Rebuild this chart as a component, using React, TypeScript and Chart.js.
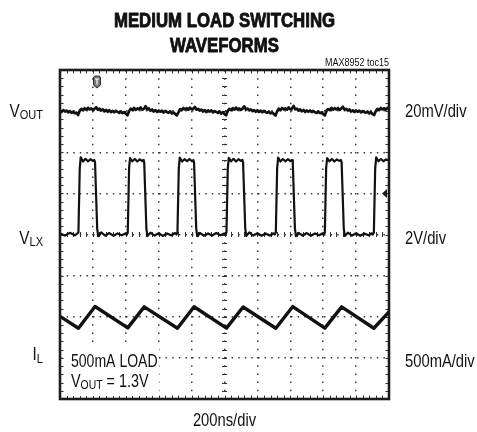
import React, { useEffect, useRef } from 'react';
import { Chart, registerables } from 'chart.js';

Chart.register(...registerables);

// ---------- text content ----------
const TITLE_LINES = ['MEDIUM LOAD SWITCHING', 'WAVEFORMS'];
const FIGURE_ID = 'MAX8952 toc15';
const TIME_LABEL = '200ns/div';
const CHANNEL_MAIN = ['V', 'V', 'I'];
const CHANNEL_SUB = ['OUT', 'LX', 'L'];
const CHANNEL_SCALE = ['20mV/div', '2V/div', '500mA/div'];
const NOTE_LOAD = '500mA LOAD';
const NOTE_VOUT = ' = 1.3V';

// ---------- scope setup ----------
const TIME_PER_DIV_NS = 200;
const H_DIVS = 10;
const V_DIVS = 8;
const VOUT_GROUND_DIV = 3;
const VLX_GROUND_DIV = 0;
const IL_GROUND_DIV = -3;
const VOUT_MV_PER_DIV = 20;
const VLX_V_PER_DIV = 2;
const IL_MA_PER_DIV = 500;
const TRIGGER_TIME_NS = 225;
const TRIGGER_LEVEL_V = 2;

// ---------- data ----------
// VOUT ripple (mV, AC-coupled), one sample every 10 ns from 0 to 2000 ns
const VOUT_SAMPLE_NS = 10;
const VOUT_RIPPLE_MV: number[] = [
  0.3, -0.4, 0.5, -0.2, 0.2, -0.6, 0.0, -0.8, -0.3, -1.1, -0.7, -1.9,
  0.2, 1.1, 0.4, 1.4, 0.7, 1.6, 0.8, 1.3, 0.5, 1.2,
  1.9, 0.6, 1.2, 0.3, 0.9, -0.1, 0.6, -0.3, 0.4, -0.5, 0.1, -0.6, 0.2, -0.4, -0.9, -0.2, -1.0, -0.5, -1.3, -2.0,
  0.0, 1.2, 0.5, 1.6, 0.6, 1.3, 0.9, 1.8, 0.7, 1.1,
  2.4, 0.8, 1.3, 0.2, 0.8, -0.2, 0.5, -0.4, 0.3, -0.3, 0.2, -0.7, 0.1, -0.5, -0.8, -0.1, -1.1, -0.6, -1.4, -2.1,
  -0.6, 1.0, 0.4, 1.5, 0.8, 1.4, 0.6, 1.7, 0.9, 1.2,
  2.0, 0.7, 1.1, 0.3, 0.7, -0.2, 0.5, -0.5, 0.3, -0.2, 0.4, -0.6, 0.0, -0.4, -0.9, -0.2, -1.2, -0.5, -1.5, -2.0,
  0.1, 1.1, 0.5, 1.4, 0.7, 1.7, 0.8, 1.3, 0.6, 1.2,
  2.3, 0.8, 1.2, 0.4, 0.9, 0.0, 0.5, -0.3, 0.4, -0.4, 0.2, -0.6, 0.1, -0.5, -0.8, -0.2, -1.1, -0.6, -1.4, -2.2,
  0.0, 1.2, 0.4, 1.5, 0.8, 1.3, 0.7, 1.8, 0.9, 1.2,
  2.5, 0.9, 1.2, 0.3, 0.8, -0.1, 0.6, -0.4, 0.3, -0.3, 0.3, -0.5, 0.1, -0.6, -0.9, -0.1, -1.0, -0.6, -1.5, -2.1,
  0.2, 1.0, 0.5, 1.6, 0.7, 1.4, 0.8, 1.5, 0.6, 1.3,
  2.1, 0.7, 1.1, 0.3, 0.8, -0.2, 0.4, -0.4, 0.3, -0.3, 0.2, -0.6, 0.0, -0.5, -0.8, -0.2, -1.1, -0.5, -1.4, -1.9,
  0.1, 1.1, 0.5, 1.5, 0.8, 1.4, 0.7, 1.6, 1.0,
];

// Switching node voltage (time ns, volts)
const VLX_VOLTS: [number, number][] = [
  [0, 0.05], [30, -0.05], [60, 0.08], [90, -0.04], [106, 0.05],
  [112, 0.1], [120, 3.2], [126, 3.75], [140, 3.55], [155, 3.68], [170, 3.56], [185, 3.66], [200, 3.58], [209, 3.62],
  [213, 3.5], [226, 0.3], [232, -0.08], [250, 0.1], [275, -0.05], [300, 0.07], [325, -0.06], [350, 0.05], [375, -0.04], [400, 0.06], [406, 0.0],
  [412, 0.1], [420, 3.25], [426, 3.72], [440, 3.56], [455, 3.67], [470, 3.55], [485, 3.65], [500, 3.57], [508, 3.63],
  [512, 3.5], [525, 0.3], [531, -0.07], [550, 0.09], [575, -0.05], [600, 0.06], [625, -0.07], [650, 0.05], [675, -0.04], [700, 0.07], [708, 0.0],
  [714, 0.1], [722, 3.2], [728, 3.74], [742, 3.55], [757, 3.66], [772, 3.57], [787, 3.67], [802, 3.56], [811, 3.62],
  [815, 3.5], [828, 0.3], [834, -0.08], [850, 0.08], [875, -0.06], [900, 0.05], [925, -0.05], [950, 0.07], [975, -0.04], [998, 0.05], [1006, 0.0],
  [1012, 0.1], [1020, 3.22], [1026, 3.73], [1040, 3.56], [1055, 3.68], [1070, 3.55], [1085, 3.66], [1100, 3.58], [1109, 3.63],
  [1113, 3.5], [1126, 0.3], [1132, -0.07], [1150, 0.1], [1175, -0.05], [1200, 0.06], [1225, -0.06], [1250, 0.05], [1275, -0.05], [1298, 0.06], [1306, 0.0],
  [1312, 0.1], [1320, 3.2], [1326, 3.74], [1340, 3.55], [1355, 3.67], [1370, 3.56], [1385, 3.66], [1400, 3.57], [1411, 3.62],
  [1415, 3.5], [1428, 0.3], [1434, -0.08], [1450, 0.08], [1475, -0.05], [1500, 0.07], [1525, -0.06], [1550, 0.05], [1575, -0.04], [1596, 0.06], [1604, 0.0],
  [1610, 0.1], [1618, 3.24], [1624, 3.72], [1638, 3.56], [1653, 3.67], [1668, 3.55], [1683, 3.65], [1698, 3.58], [1708, 3.62],
  [1712, 3.5], [1725, 0.3], [1731, -0.07], [1750, 0.09], [1775, -0.05], [1800, 0.06], [1825, -0.06], [1850, 0.05], [1875, -0.04], [1894, 0.06], [1902, 0.0],
  [1908, 0.1], [1916, 3.2], [1922, 3.75], [1936, 3.56], [1951, 3.67], [1966, 3.56], [1981, 3.65], [2000, 3.6],
];

// Inductor current (time ns, mA)
const IL_MA: [number, number][] = [
  [0, 505], [112, 360], [213, 625], [412, 365], [512, 620], [714, 360], [815, 622],
  [1012, 362], [1113, 618], [1312, 360], [1415, 624], [1610, 362], [1712, 620], [1908, 360], [2000, 560],
];

// ---------- styling ----------
const FONT = '"Liberation Sans", Arial, Helvetica, sans-serif';
const INK = '#111111';
const GRID_COLOR = '#3a3a3a';
const W = 477;
const H = 432;

type Part = { text: string; size: number; dy?: number; bold?: boolean; stroke?: number };

function drawParts(ctx: CanvasRenderingContext2D, parts: Part[], x: number, baseline: number, align: 'left' | 'right' | 'center', sx: number) {
  let total = 0;
  const widths = parts.map((p) => {
    ctx.font = `${p.bold ? 'bold ' : ''}${p.size}px ${FONT}`;
    const w = ctx.measureText(p.text).width * sx;
    total += w;
    return w;
  });
  let cx = align === 'right' ? x - total : align === 'center' ? x - total / 2 : x;
  parts.forEach((p, i) => {
    ctx.save();
    ctx.font = `${p.bold ? 'bold ' : ''}${p.size}px ${FONT}`;
    ctx.textAlign = 'left';
    ctx.textBaseline = 'alphabetic';
    ctx.fillStyle = INK;
    ctx.translate(cx, baseline + (p.dy || 0));
    ctx.scale(sx, 1);
    ctx.fillText(p.text, 0, 0);
    if (p.stroke) {
      ctx.lineWidth = p.stroke;
      ctx.strokeStyle = INK;
      ctx.lineJoin = 'round';
      ctx.strokeText(p.text, 0, 0);
    }
    ctx.restore();
    cx += widths[i];
  });
  return total;
}

const scopePlugin = {
  id: 'scopeDecor',
  beforeDatasetsDraw(chart: any) {
    const { ctx, chartArea: a, scales } = chart;
    const xs = scales.x;
    const ys = scales.y;
    ctx.save();
    ctx.strokeStyle = '#333';
    ctx.lineWidth = 1;
    const yc = ys.getPixelForValue(0);
    const xc = xs.getPixelForValue((H_DIVS / 2) * TIME_PER_DIV_NS);
    ctx.beginPath();
    for (let i = 1; i < H_DIVS * 5; i++) {
      const px = Math.round(xs.getPixelForValue((i * TIME_PER_DIV_NS) / 5)) + 0.5;
      ctx.moveTo(px, a.top);
      ctx.lineTo(px, a.top + 3.5);
      ctx.moveTo(px, a.bottom - 3.5);
      ctx.lineTo(px, a.bottom);
      ctx.moveTo(px, yc - 2.5);
      ctx.lineTo(px, yc + 2.5);
    }
    for (let i = 1; i < V_DIVS * 5; i++) {
      const py = Math.round(ys.getPixelForValue(-V_DIVS / 2 + i / 5)) + 0.5;
      ctx.moveTo(a.left, py);
      ctx.lineTo(a.left + 3.5, py);
      ctx.moveTo(a.right - 3.5, py);
      ctx.lineTo(a.right, py);
      ctx.moveTo(xc - 2.5, py);
      ctx.lineTo(xc + 2.5, py);
    }
    ctx.stroke();
    // white backdrop for annotation text
    const boxTop = ys.getPixelForValue(IL_GROUND_DIV) - 14;
    ctx.fillStyle = '#ffffff';
    ctx.fillRect(a.left + 5, boxTop, 94, a.bottom - 3 - boxTop);
    ctx.restore();
  },
  afterDatasetsDraw(chart: any) {
    const { ctx, chartArea: a, scales } = chart;
    const xs = scales.x;
    const ys = scales.y;
    ctx.save();
    // frame
    ctx.strokeStyle = '#1c1c1c';
    ctx.lineWidth = 2.6;
    ctx.strokeRect(a.left, a.top, a.right - a.left, a.bottom - a.top);
    // trigger position marker
    const tx = xs.getPixelForValue(TRIGGER_TIME_NS);
    const ty = a.top + 6;
    ctx.fillStyle = '#7a7a7a';
    ctx.strokeStyle = '#2a2a2a';
    ctx.lineWidth = 1;
    ctx.beginPath();
    ctx.moveTo(tx - 3.5, ty + 2);
    ctx.quadraticCurveTo(tx - 3.5, ty, tx - 1.5, ty);
    ctx.lineTo(tx + 1.5, ty);
    ctx.quadraticCurveTo(tx + 3.5, ty, tx + 3.5, ty + 2);
    ctx.lineTo(tx + 3.5, ty + 9);
    ctx.lineTo(tx, ty + 12);
    ctx.lineTo(tx - 3.5, ty + 9);
    ctx.closePath();
    ctx.fill();
    ctx.stroke();
    ctx.strokeStyle = '#ffffff';
    ctx.lineWidth = 1.2;
    ctx.beginPath();
    ctx.moveTo(tx - 2, ty + 3);
    ctx.lineTo(tx + 2, ty + 3);
    ctx.moveTo(tx, ty + 3);
    ctx.lineTo(tx, ty + 8.5);
    ctx.stroke();
    // trigger level marker
    const ly = ys.getPixelForValue(VLX_GROUND_DIV + TRIGGER_LEVEL_V / VLX_V_PER_DIV);
    ctx.fillStyle = '#1c1c1c';
    ctx.beginPath();
    ctx.moveTo(a.right - 7, ly);
    ctx.lineTo(a.right - 2, ly - 4.5);
    ctx.lineTo(a.right - 2, ly + 4.5);
    ctx.closePath();
    ctx.fill();
    ctx.restore();
  },
  afterDraw(chart: any) {
    const { ctx, chartArea: a, scales } = chart;
    const ys = scales.y;
    const cx = (a.left + a.right) / 2;
    ctx.save();
    // title
    drawParts(ctx, [{ text: TITLE_LINES[0], size: 21, bold: true, stroke: 0.9 }], cx, 26.5, 'center', 0.8);
    drawParts(ctx, [{ text: TITLE_LINES[1], size: 21, bold: true, stroke: 0.9 }], cx, 52, 'center', 0.8);
    drawParts(ctx, [{ text: FIGURE_ID, size: 10 }], a.right, 66, 'right', 0.9);
    // channel labels
    const grounds = [VOUT_GROUND_DIV, VLX_GROUND_DIV, IL_GROUND_DIV];
    const leftDy = [-1, 3, -4];
    const rightDy = [-1, 3, 3];
    grounds.forEach((g, i) => {
      const py = ys.getPixelForValue(g);
      drawParts(
        ctx,
        [
          { text: CHANNEL_MAIN[i], size: 18 },
          { text: CHANNEL_SUB[i], size: 13, dy: 2.5 },
        ],
        a.left - 17,
        py + leftDy[i] + 6.4,
        'right',
        0.85
      );
      drawParts(ctx, [{ text: CHANNEL_SCALE[i], size: 18 }], a.right + 16, py + rightDy[i] + 6.4, 'left', 0.82);
    });
    // time base
    drawParts(ctx, [{ text: TIME_LABEL, size: 18 }], cx, a.bottom + 27, 'center', 0.82);
    // annotation
    const ny = ys.getPixelForValue(IL_GROUND_DIV);
    drawParts(ctx, [{ text: NOTE_LOAD, size: 18 }], a.left + 11, ny + 9.5, 'left', 0.78);
    drawParts(
      ctx,
      [
        { text: 'V', size: 18 },
        { text: 'OUT', size: 13, dy: 2.5 },
        { text: NOTE_VOUT, size: 18 },
      ],
      a.left + 11,
      ny + 29,
      'left',
      0.8
    );
    ctx.restore();
  },
};

export default function App() {
  const ref = useRef<HTMLCanvasElement | null>(null);
  useEffect(() => {
    if (!ref.current) return;
    const vout = VOUT_RIPPLE_MV.map((mv, i) => ({ x: i * VOUT_SAMPLE_NS, y: VOUT_GROUND_DIV + mv / VOUT_MV_PER_DIV }));
    const vlx = VLX_VOLTS.map(([t, v]) => ({ x: t, y: VLX_GROUND_DIV + v / VLX_V_PER_DIV }));
    const il = IL_MA.map(([t, ma]) => ({ x: t, y: IL_GROUND_DIV + ma / IL_MA_PER_DIV }));
    const common = {
      borderColor: INK,
      pointRadius: 0,
      tension: 0,
      borderJoinStyle: 'round' as const,
      borderCapStyle: 'round' as const,
      fill: false,
    };
    const chart = new Chart(ref.current, {
      type: 'line',
      data: {
        datasets: [
          { ...common, label: 'VLX', data: vlx, borderWidth: 2.2 },
          { ...common, label: 'VOUT', data: vout, borderWidth: 2.7 },
          { ...common, label: 'IL', data: il, borderWidth: 3.4 },
        ],
      },
      options: {
        animation: false,
        responsive: false,
        events: [],
        layout: { padding: { left: 60, top: 70, right: 88, bottom: 33 } },
        plugins: { legend: { display: false }, tooltip: { enabled: false }, title: { display: false } },
        scales: {
          x: {
            type: 'linear',
            min: 0,
            max: H_DIVS * TIME_PER_DIV_NS,
            afterFit: (s: any) => {
              s.height = 0;
            },
            ticks: { display: false, stepSize: TIME_PER_DIV_NS },
            grid: { color: GRID_COLOR, lineWidth: 1.5, drawTicks: false },
            border: { display: false, dash: [1.5, 6.7] },
          },
          y: {
            type: 'linear',
            min: -V_DIVS / 2,
            max: V_DIVS / 2,
            afterFit: (s: any) => {
              s.width = 0;
            },
            ticks: { display: false, stepSize: 1 },
            grid: { color: GRID_COLOR, lineWidth: 1.5, drawTicks: false },
            border: { display: false, dash: [1.5, 5.1] },
          },
        },
      },
      plugins: [scopePlugin],
    });
    return () => chart.destroy();
  }, []);
  return (
    <div style={{ position: 'absolute', left: 0, top: 0, width: W, height: H, background: '#fff' }}>
      <canvas ref={ref} width={W} height={H} style={{ display: 'block', width: W, height: H }} />
    </div>
  );
}
